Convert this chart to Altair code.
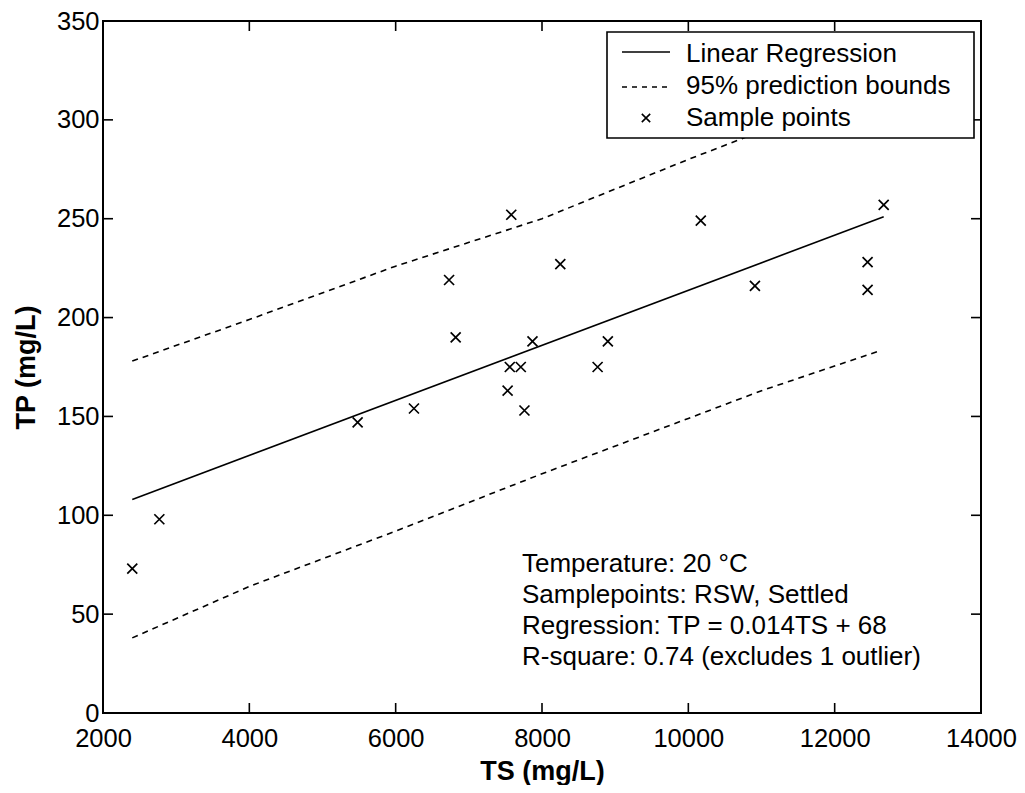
import altair as alt
import pandas as pd

# Sample points
ts_points = [2400, 2770, 5480, 6250, 6730, 6820, 7530, 7560, 7710, 7760, 7870, 7580,
             8250, 8760, 8900, 10170, 10910, 12450, 12450, 12670]
tp_points = [73, 98, 147, 154, 219, 190, 163, 175, 175, 153, 188, 252,
             227, 175, 188, 249, 216, 228, 214, 257]

# Linear regression line
reg_ts = [2400, 12670]
reg_tp = [108, 251]

# 95% prediction bounds
upper_ts = [2400, 4000, 6000, 8000, 10000, 10700, 12670]
upper_tp = [178, 199, 226, 250, 280, 290, 320]
lower_ts = [2400, 4000, 6000, 8000, 10000, 11000, 12600]
lower_tp = [38, 64, 92, 121, 149, 163, 183]

x_ticks = [2000, 4000, 6000, 8000, 10000, 12000, 14000]
y_ticks = [0, 50, 100, 150, 200, 250, 300, 350]

annotation = ["Temperature: 20 °C", "Samplepoints: RSW, Settled",
              "Regression: TP = 0.014TS + 68", "R-square: 0.74 (excludes 1 outlier)"]
legend_labels = ["Linear Regression", "95% prediction bounds", "Sample points"]

W, H = 878, 692
FONT = "Liberation Sans"

xs = alt.Scale(domain=[2000, 14000], nice=False, zero=False)
ys = alt.Scale(domain=[0, 350], nice=False)

xaxis = alt.Axis(values=x_ticks, format="d", ticks=False, domain=False, grid=False,
                 labelFontSize=25.5, labelFont=FONT, labelColor="black", labelPadding=13,
                 title="TS (mg/L)", titleFont=FONT, titleFontSize=27, titleFontWeight="bold",
                 titleColor="black", titlePadding=7, labelFlush=False)
yaxis = alt.Axis(values=y_ticks, format="d", ticks=False, domain=False, grid=False,
                 labelFontSize=25.5, labelFont=FONT, labelColor="black", labelPadding=4,
                 title="TP (mg/L)", titleFont=FONT, titleFontSize=27, titleFontWeight="bold",
                 titleColor="black", titlePadding=16, labelFlush=False)

pts_df = pd.DataFrame({"TS": ts_points, "TP": tp_points})
reg_df = pd.DataFrame({"TS": reg_ts, "TP": reg_tp})
up_df = pd.DataFrame({"TS": upper_ts, "TP": upper_tp})
lo_df = pd.DataFrame({"TS": lower_ts, "TP": lower_tp})
xt_df = pd.DataFrame({"v": x_ticks[1:-1]})
yt_df = pd.DataFrame({"v": y_ticks[1:-1]})

XPATH = "M-1,-1L1,1M-1,1L1,-1"
DASH = [6, 5]

base_line = alt.Chart(reg_df).mark_line(color="black", strokeWidth=1.6).encode(
    x=alt.X("TS:Q", scale=xs, axis=xaxis),
    y=alt.Y("TP:Q", scale=ys, axis=yaxis),
)
upper = alt.Chart(up_df).mark_line(color="black", strokeWidth=1.6, strokeDash=DASH).encode(
    x=alt.X("TS:Q", scale=xs), y=alt.Y("TP:Q", scale=ys))
lower = alt.Chart(lo_df).mark_line(color="black", strokeWidth=1.6, strokeDash=DASH).encode(
    x=alt.X("TS:Q", scale=xs), y=alt.Y("TP:Q", scale=ys))
points = alt.Chart(pts_df).mark_point(shape=XPATH, size=100, filled=False, color="black",
                                      strokeWidth=1.7, opacity=1).encode(
    x=alt.X("TS:Q", scale=xs), y=alt.Y("TP:Q", scale=ys))

# inward ticks (MATLAB style)
tick_len = 10
xt_bottom = alt.Chart(xt_df).mark_rule(color="black", strokeWidth=1.6).encode(
    x=alt.X("v:Q", scale=xs), y=alt.value(H), y2=alt.value(H - tick_len))
xt_top = alt.Chart(xt_df).mark_rule(color="black", strokeWidth=1.6).encode(
    x=alt.X("v:Q", scale=xs), y=alt.value(0), y2=alt.value(tick_len))
yt_left = alt.Chart(yt_df).mark_rule(color="black", strokeWidth=1.6).encode(
    y=alt.Y("v:Q", scale=ys), x=alt.value(0), x2=alt.value(tick_len))
yt_right = alt.Chart(yt_df).mark_rule(color="black", strokeWidth=1.6).encode(
    y=alt.Y("v:Q", scale=ys), x=alt.value(W), x2=alt.value(W - tick_len))

one = pd.DataFrame({"a": [0]})

# legend box
LX0, LX1, LY0, LY1 = 504, 871, 11, 117
leg_box = alt.Chart(one).mark_rect(fill="white", stroke="black", strokeWidth=1.6).encode(
    x=alt.value(LX0), x2=alt.value(LX1), y=alt.value(LY0), y2=alt.value(LY1))
leg_l1 = alt.Chart(one).mark_rule(color="black", strokeWidth=1.4).encode(
    x=alt.value(519), x2=alt.value(567), y=alt.value(31))
leg_l2 = alt.Chart(one).mark_rule(color="black", strokeWidth=1.4, strokeDash=[5, 5]).encode(
    x=alt.value(519), x2=alt.value(567), y=alt.value(66))
leg_pt = alt.Chart(one).mark_point(shape=XPATH, size=70, filled=False, color="black",
                                   strokeWidth=1.6, opacity=1).encode(
    x=alt.value(543), y=alt.value(97))
leg_texts = []
for lbl, yb in zip(legend_labels, [41, 73, 105]):
    leg_texts.append(alt.Chart(one).mark_text(
        align="left", baseline="alphabetic", font=FONT, fontSize=26, color="black").encode(
        x=alt.value(583), y=alt.value(yb), text=alt.value(lbl)))

annot = alt.Chart(one).mark_text(
    align="left", baseline="alphabetic", font=FONT, fontSize=26, color="black",
    lineHeight=31).encode(
    x=alt.value(419), y=alt.value(551), text=alt.value(annotation))

chart = alt.layer(
    upper, lower, base_line, points,
    xt_bottom, xt_top, yt_left, yt_right,
    leg_box, leg_l1, leg_l2, leg_pt, *leg_texts, annot
).properties(
    width=W, height=H,
    autosize=alt.AutoSizeParams(type="none"),
    padding={"left": 95, "top": 13, "right": 36, "bottom": 72},
    background="white",
).configure_view(
    stroke="black", strokeWidth=2
)

chart.save("out.html", embed_options={"renderer": "svg", "actions": False})
